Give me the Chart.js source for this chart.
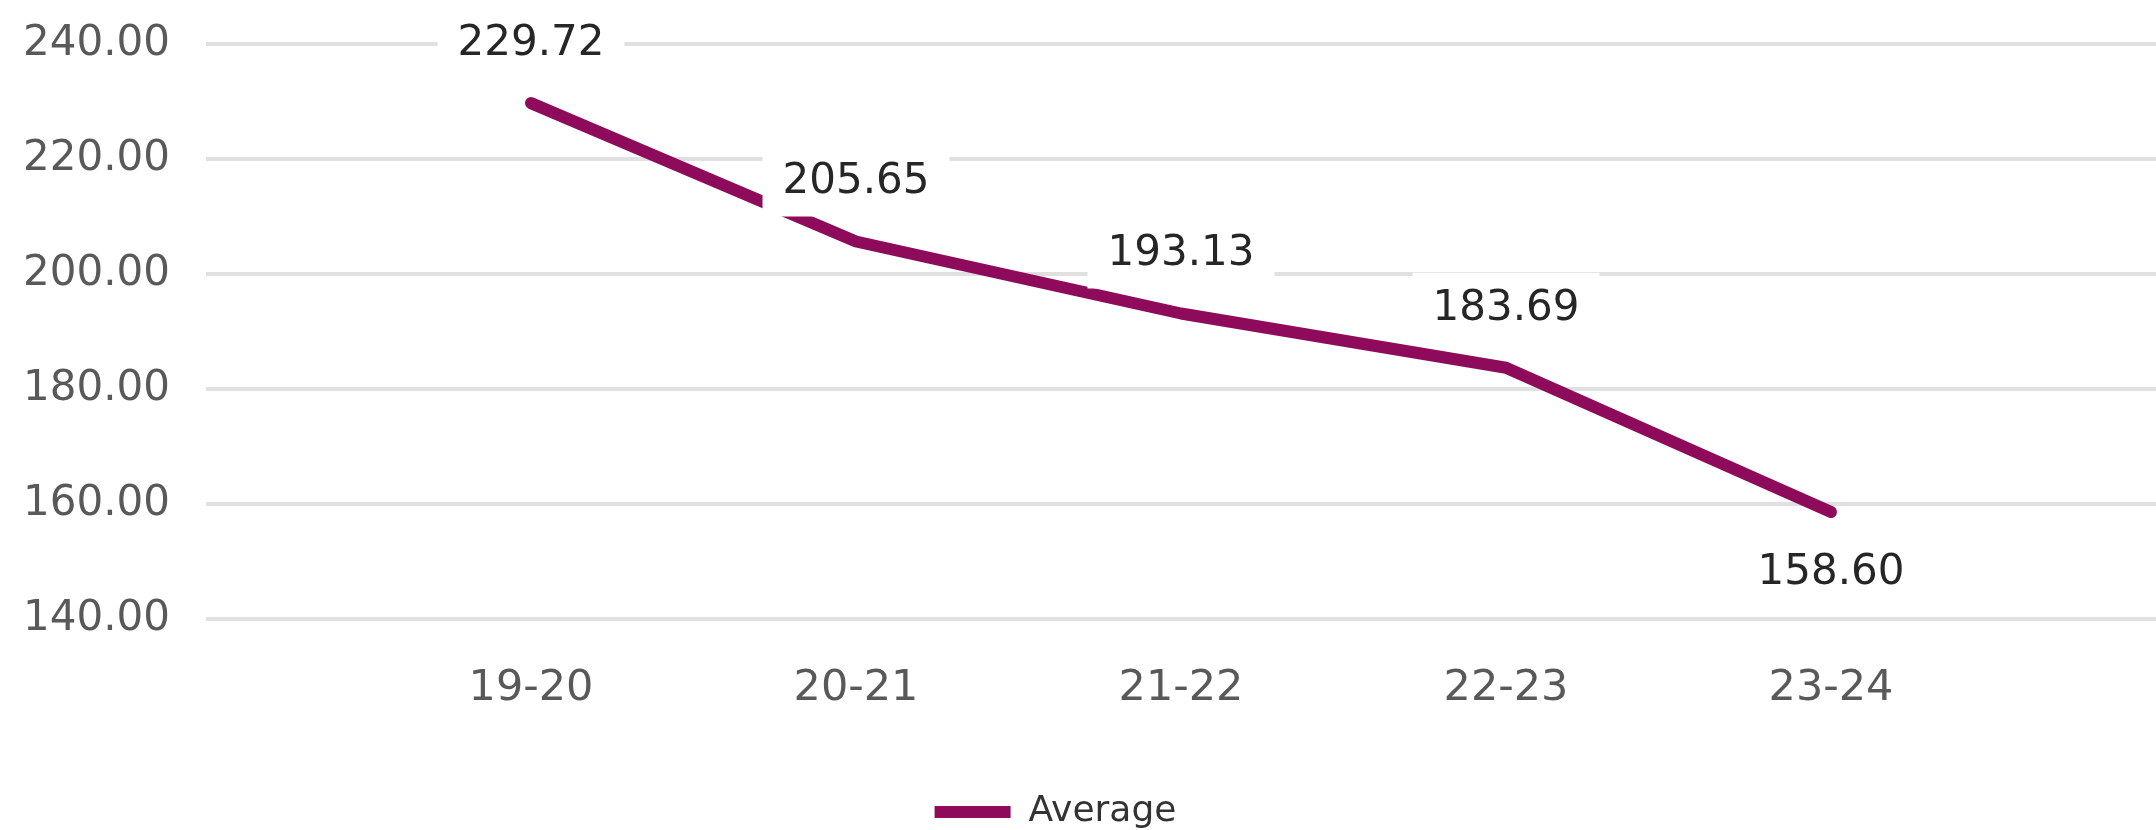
<!DOCTYPE html>
<html>
<head>
<meta charset="utf-8">
<title>Average</title>
<script src="https://cdn.jsdelivr.net/npm/chart.js@4/dist/chart.umd.min.js"></script>
<style>
  html, body { margin: 0; padding: 0; background: #fff; overflow: hidden; }
  #wrap { position: relative; width: 2156px; height: 830px; }
</style>
</head>
<body>
<div id="wrap"><canvas id="lineChart"></canvas></div>
<script>
// Data

const seasons = ['19-20', '20-21', '21-22', '22-23', '23-24'];
const averageValues = [229.72, 205.65, 193.13, 183.69, 158.60];
const yTicks = [140, 160, 180, 200, 220, 240];

// the x axis has an empty slot on each side of the seasons
const labels = [''].concat(seasons, ['']);
const padded = [null].concat(averageValues, [null]);

const lineColor = '#8e0b5b';
const fontFamily = '"DejaVu Sans", sans-serif';

// value labels with a white box behind them
const valueLabels = {
    id: 'valueLabels',
    afterDatasetsDraw(chart, args, opts) {
        const ctx = chart.ctx;
        const meta = chart.getDatasetMeta(0);
        ctx.save();
        ctx.font = opts.size + 'px ' + fontFamily;
        ctx.textAlign = 'center';
        ctx.textBaseline = 'middle';
        let n = 0;
        meta.data.forEach((pt, i) => {
            const v = chart.data.datasets[0].data[i];
            if (v === null) return;
            const below = opts.placement[n++] === 'below';
            const x = pt.x;
            const y = pt.y + (below ? opts.offset : -opts.offset);
            const text = v.toFixed(2);
            const w = ctx.measureText(text).width + 40;
            const h = 70;
            ctx.fillStyle = '#ffffff';
            ctx.fillRect(x - w / 2, y - h / 2, w, h);
            ctx.fillStyle = opts.color;
            ctx.fillText(text, x, y + 1);
        });
        ctx.restore();
    }
};

// move the legend a little left of the centre
const legendNudge = {
    id: 'legendNudge',
    afterLayout(chart, args, opts) {
        chart.legend.left -= opts.shift;
        chart.legend.right -= opts.shift;
    }
};

const data = {
    labels: labels,
    datasets: [{
        label: 'Average',
        data: padded,
        borderColor: lineColor,
        backgroundColor: lineColor,
        borderWidth: 12,
        borderCapStyle: 'round',
        borderJoinStyle: 'round',
        pointRadius: 0,
        pointHoverRadius: 0,
        tension: 0,
        spanGaps: false
    }]
};

const config = {
    type: 'line',
    data: data,
    plugins: [valueLabels, legendNudge],
    options: {
        responsive: true,
        maintainAspectRatio: false,
        animation: false,
        layout: { padding: { top: 44, left: 25, right: 0, bottom: -10 } },
        scales: {
            x: {
                offset: false,
                grid: { display: false, drawTicks: false },
                border: { display: false },
                ticks: {
                    autoSkip: false,
                    maxRotation: 0,
                    padding: 0,
                    color: '#595959',
                    // tall line box pushes the season labels down
                    font: { family: fontFamily, size: 43, lineHeight: '140px' }
                }
            },
            y: {
                min: 140,
                max: 240,
                afterFit(scale) { scale.width = 181; },
                afterBuildTicks(scale) {
                    scale.ticks = yTicks.map(v => ({ value: v }));
                },
                grid: {
                    color: '#e0e0e0',
                    lineWidth: 4,
                    drawTicks: true,
                    tickLength: 36,
                    tickColor: 'rgba(0,0,0,0)'
                },
                border: { display: false },
                ticks: {
                    padding: 0,
                    color: '#595959',
                    font: { family: fontFamily, size: 42 },
                    callback: v => Number(v).toFixed(2)
                }
            }
        },
        plugins: {
            legend: {
                position: 'bottom',
                labels: {
                    boxWidth: 76,
                    boxHeight: 12,
                    padding: 35,
                    color: '#333333',
                    font: { family: fontFamily, size: 36 },
                    generateLabels(chart) {
                        const items = Chart.defaults.plugins.legend.labels.generateLabels(chart);
                        items.forEach(it => { it.lineWidth = 0; it.fillStyle = lineColor; });
                        return items;
                    }
                }
            },
            tooltip: { enabled: false },
            valueLabels: {
                size: 42,
                offset: 60,
                color: '#262626',
                placement: ['above', 'above', 'above', 'above', 'below']
            },
            legendNudge: { shift: 35 }
        }
    }
};

// Chart

const ctx = document.getElementById('lineChart').getContext('2d');
const myChart = new Chart(ctx, config);
</script>
</body>
</html>
